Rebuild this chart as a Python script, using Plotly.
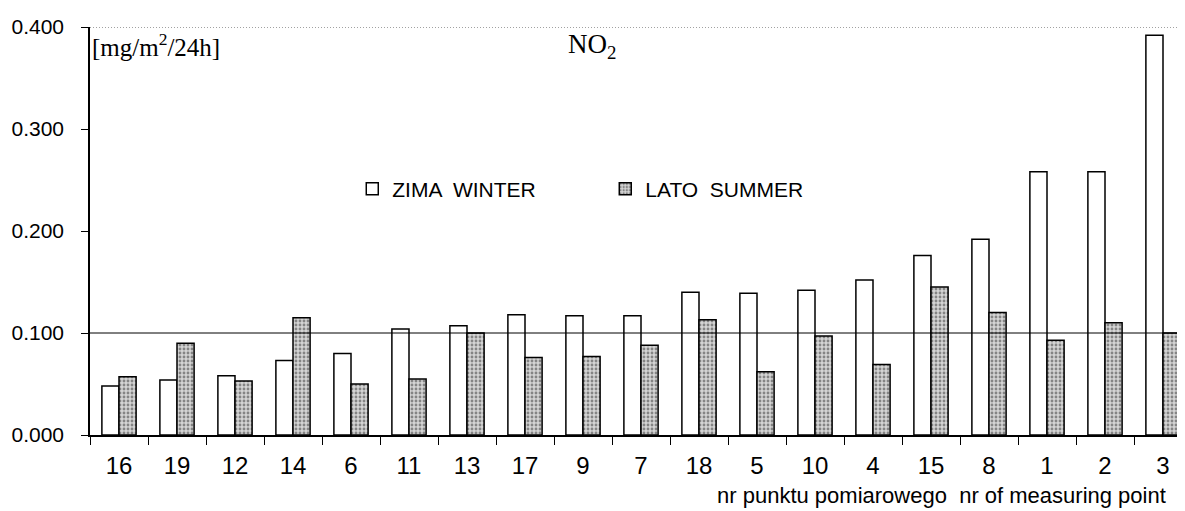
import plotly.graph_objects as go

points = ["16", "19", "12", "14", "6", "11", "13", "17", "9", "7", "18", "5", "10", "4", "15", "8", "1", "2", "3"]
winter = [0.048, 0.054, 0.058, 0.073, 0.080, 0.104, 0.107, 0.118, 0.117, 0.117, 0.140, 0.139, 0.142, 0.152, 0.176, 0.192, 0.258, 0.258, 0.392]
summer = [0.057, 0.090, 0.053, 0.115, 0.050, 0.055, 0.100, 0.076, 0.077, 0.088, 0.113, 0.062, 0.097, 0.069, 0.145, 0.120, 0.093, 0.110, 0.100]
limit_value = 0.100
y_ticks = [0.0, 0.1, 0.2, 0.3, 0.4]

fig = go.Figure()
fig.add_trace(go.Bar(
    x=points, y=winter, name="ZIMA  WINTER",
    marker=dict(color="white", line=dict(color="black", width=1.5)),
))
fig.add_trace(go.Bar(
    x=points, y=summer, name="LATO  SUMMER",
    marker=dict(color="#d0d0d0", line=dict(color="black", width=1.5),
                pattern=dict(shape=".", fgcolor="#333333", bgcolor="#d4d4d4", size=4, solidity=0.4)),
))

fig.add_shape(type="line", xref="paper", yref="y", x0=0, x1=1, y0=limit_value, y1=limit_value,
              line=dict(color="black", width=1))
fig.add_shape(type="line", xref="paper", yref="y", x0=0, x1=1, y0=0.4, y1=0.4,
              line=dict(color="#444444", width=1.2, dash="1px,2px"))

fig.add_annotation(text="[mg/m<sup>2</sup>/24h]", xref="paper", yref="paper", x=0.0, y=1.0,
                   xanchor="left", yanchor="top", showarrow=False,
                   font=dict(family="Liberation Serif", size=25, color="black"))
fig.add_annotation(text="NO<sub>2</sub>", xref="paper", yref="paper", x=0.432, y=1.0,
                   xanchor="left", yanchor="top", showarrow=False,
                   font=dict(family="Liberation Serif", size=27, color="black"))
fig.add_annotation(text="nr punktu pomiarowego  nr of measuring point", xref="paper", yref="paper",
                   x=0.978, y=-0.148, xanchor="right", yanchor="middle", showarrow=False,
                   font=dict(family="Liberation Sans", size=22, color="black"))

fig.update_layout(
    width=1185, height=511,
    margin=dict(l=82, r=1, t=19, b=84),
    paper_bgcolor="white", plot_bgcolor="white",
    barmode="group", bargap=0.41, bargroupgap=0,
    font=dict(family="Liberation Sans", color="black"),
    showlegend=True,
    legend=dict(orientation="h", x=0.238, y=0.603, xanchor="left", yanchor="middle",
                font=dict(family="Liberation Sans", size=21, color="black"),
                entrywidth=208, itemwidth=30, bgcolor="rgba(0,0,0,0)"),
)
fig.update_xaxes(
    showline=True, linecolor="black", linewidth=1.5,
    ticks="outside", tickson="boundaries", ticklen=8, tickcolor="black", tickwidth=1.2,
    tickfont=dict(size=24, family="Liberation Sans"), ticklabelstandoff=8,
    showgrid=False, zeroline=False,
)
fig.update_yaxes(
    range=[0, 0.4], tickvals=y_ticks, tickformat=".3f",
    showline=True, linecolor="black", linewidth=1.5,
    ticks="outside", ticklen=7, tickcolor="black", tickwidth=1.2,
    tickfont=dict(size=21, family="Liberation Sans"), ticklabelstandoff=13,
    showgrid=False, zeroline=False,
)

fig.write_html("out.html")
